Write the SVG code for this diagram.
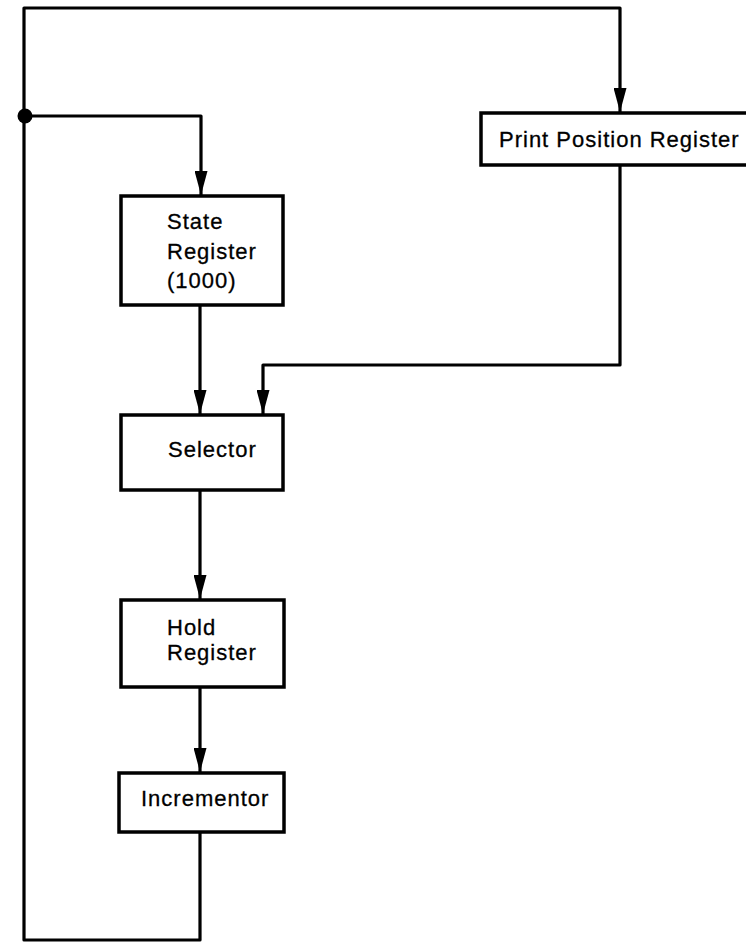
<svg xmlns="http://www.w3.org/2000/svg" width="746" height="942" viewBox="0 0 746 942">
<style>
.box{fill:#fff;stroke:#000;stroke-width:3.5}
.ln{fill:none;stroke:#000;stroke-width:3.2;stroke-linejoin:round}
.t{font-family:"Liberation Sans",Arial,sans-serif;font-size:22px;letter-spacing:1px;fill:#000;stroke:#000;stroke-width:0.3}
</style>
<defs>
<marker id="ah" markerUnits="userSpaceOnUse" markerWidth="24" markerHeight="13" refX="24" refY="6.5" orient="auto" viewBox="0 0 24 13">
<path d="M0,0 L24,6.5 L0,13 Z" fill="#000"/>
</marker>
</defs>
<rect width="746" height="942" fill="#fff"/>
<g id="connectors">
<path class="ln" d="M200,832 V940 H24 V8 H620 V112" marker-end="url(#ah)"/>
<path class="ln" d="M24,116 H201 V195" marker-end="url(#ah)"/>
<path class="ln" d="M200,305 V414" marker-end="url(#ah)"/>
<path class="ln" d="M620,165 V365 H263 V414" marker-end="url(#ah)"/>
<path class="ln" d="M200,490 V599" marker-end="url(#ah)"/>
<path class="ln" d="M200,687 V772" marker-end="url(#ah)"/>
<circle cx="25" cy="116" r="7.5" fill="#000"/>
</g>
<g id="print-position-register">
<rect class="box" x="481" y="113" width="275" height="52"/>
<text class="t" x="499" y="147">Print Position Register</text>
</g>
<g id="state-register">
<rect class="box" x="121" y="196" width="162" height="109"/>
<text class="t" x="167" y="229">State</text>
<text class="t" x="167" y="259">Register</text>
<text class="t" x="167" y="288">(1000)</text>
</g>
<g id="selector">
<rect class="box" x="121" y="415" width="162" height="75"/>
<text class="t" x="168" y="457">Selector</text>
</g>
<g id="hold-register">
<rect class="box" x="121" y="600" width="163" height="87"/>
<text class="t" x="167" y="635">Hold</text>
<text class="t" x="167" y="660">Register</text>
</g>
<g id="incrementor">
<rect class="box" x="119" y="773" width="165" height="59"/>
<text class="t" x="141" y="806">Incrementor</text>
</g>
</svg>
